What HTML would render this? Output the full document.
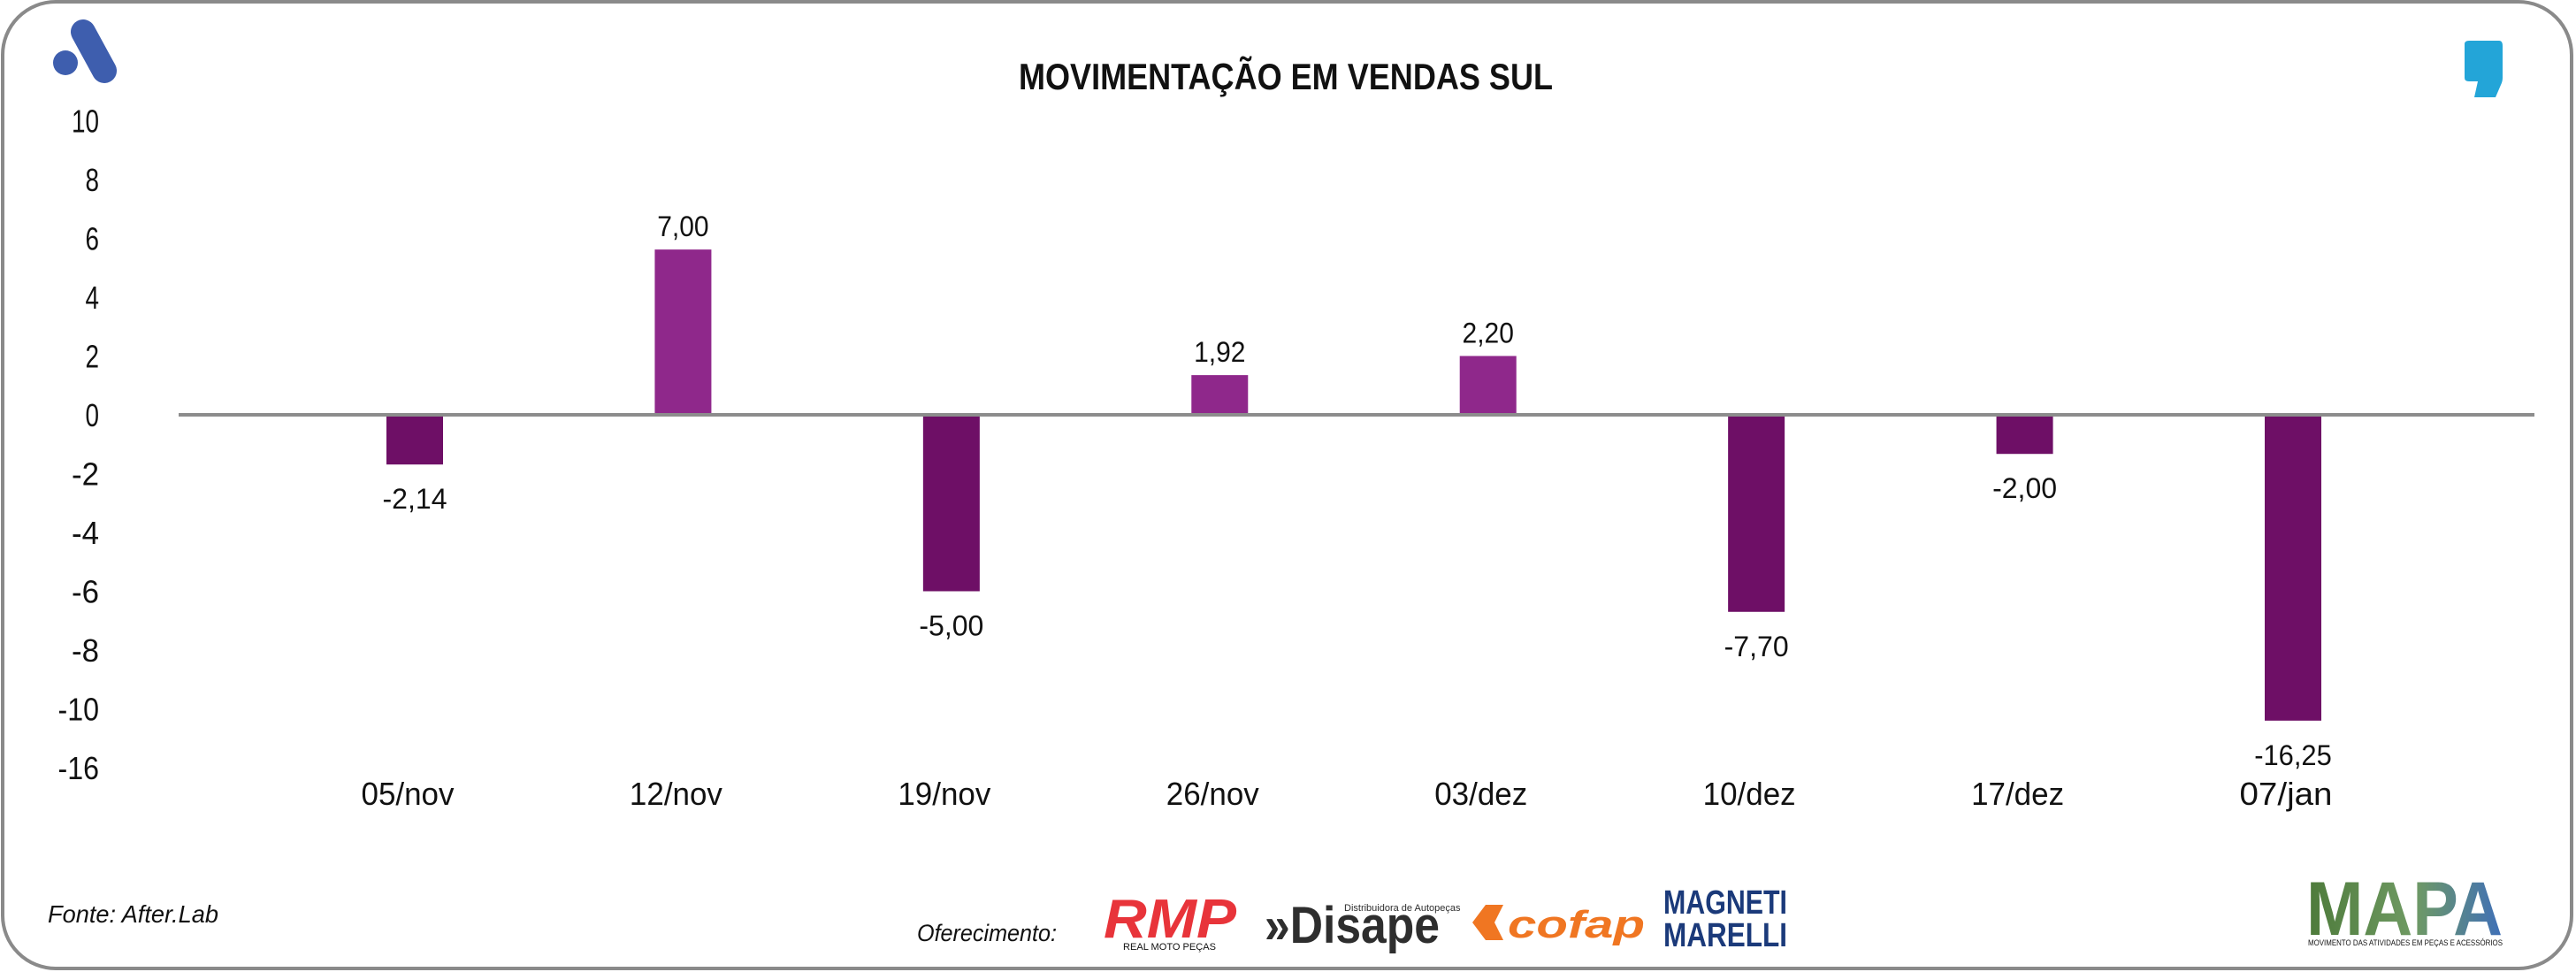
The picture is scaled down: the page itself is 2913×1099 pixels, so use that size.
<!DOCTYPE html>
<html><head><meta charset="utf-8"><style>
html,body{margin:0;padding:0;background:#fff;}
svg{display:block;}
text{font-family:"Liberation Sans Narrow","Liberation Sans",sans-serif;fill:#111;}
</style></head><body>
<svg id="chart" width="2913" height="1099" viewBox="0 0 2913 1099" xmlns="http://www.w3.org/2000/svg">
<rect x="3" y="2" width="2905" height="1093" rx="60" ry="60" fill="#fff" stroke="#8a8a8a" stroke-width="4"/>
<g>
<circle cx="74" cy="71" r="14" fill="#3E5EAE"/>
<line x1="94" y1="36" x2="118" y2="80" stroke="#3E5EAE" stroke-width="28" stroke-linecap="round"/>
</g>
<path d="M2787 50 Q2787 46 2792 46 L2826 46 Q2830 46 2830 52 L2830 88 Q2830 92 2828 96 L2822 110 L2798 110 L2802 92 L2792 92 Q2787 92 2787 88 Z" fill="#23A5D8"/>
<text x="1454" y="101" text-anchor="middle" font-size="42" font-weight="bold" textLength="604" lengthAdjust="spacingAndGlyphs">MOVIMENTAÇÃO EM VENDAS SUL</text>
<g id="yaxis"></g>
<g id="bars"></g>
<line x1="202" y1="469" x2="2866" y2="469" stroke="#8c8c8c" stroke-width="4"/>
<g id="xaxis"></g>
<text x="54" y="1043" font-size="28" font-style="italic" textLength="193" lengthAdjust="spacingAndGlyphs">Fonte: After.Lab</text>
<text x="1037" y="1064" font-size="27" font-style="italic" textLength="158" lengthAdjust="spacingAndGlyphs">Oferecimento:</text>
<g>
<text x="1248" y="1060" font-size="62" font-weight="bold" font-style="italic" style="fill:#E8343A" textLength="150" lengthAdjust="spacingAndGlyphs">RMP</text>
<text x="1270" y="1074" font-size="11" textLength="105" lengthAdjust="spacingAndGlyphs">REAL MOTO PEÇAS</text>
</g>
<g>
<text x="1430" y="1066" font-size="58" font-weight="bold" style="fill:#2e2e2e" textLength="198" lengthAdjust="spacingAndGlyphs">»Disape</text>
<text x="1520" y="1030" font-size="11" style="fill:#2e2e2e">Distribuidora de Autopeças</text>
</g>
<g>
<path d="M1665 1043 L1680 1023 L1700 1023 L1690 1043 L1700 1063 L1680 1063 Z" fill="#F07622"/>
<text x="1705" y="1060" font-size="44" font-weight="bold" font-style="italic" style="fill:#F07622" textLength="155" lengthAdjust="spacingAndGlyphs">cofap</text>
</g>
<g>
<text x="1951" y="1033" text-anchor="middle" font-size="38" font-weight="bold" style="fill:#1B3A7A" textLength="140" lengthAdjust="spacingAndGlyphs">MAGNETI</text>
<text x="1951" y="1070" text-anchor="middle" font-size="38" font-weight="bold" style="fill:#1B3A7A" textLength="140" lengthAdjust="spacingAndGlyphs">MARELLI</text>
</g>
<g>
<defs><linearGradient id="mg" x1="0" x2="1" y1="0" y2="0"><stop offset="0" stop-color="#4d7a3a"/><stop offset="0.55" stop-color="#6f9a63"/><stop offset="1" stop-color="#3f6fb8"/></linearGradient></defs>
<text x="2608" y="1057" font-size="86" font-weight="bold" style="fill:url(#mg)" textLength="222" lengthAdjust="spacingAndGlyphs">MAPA</text>
<text x="2610" y="1069" font-size="9" textLength="220" lengthAdjust="spacingAndGlyphs">MOVIMENTO DAS ATIVIDADES EM PEÇAS E ACESSÓRIOS</text>
</g>
</svg>
<script>
const categories = ["05/nov","12/nov","19/nov","26/nov","03/dez","10/dez","17/dez","07/jan"];
const barValues = [-1.69, 5.62, -6.0, 1.35, 2.0, -6.7, -1.33, -10.4];
const valueLabels = ["-2,14","7,00","-5,00","1,92","2,20","-7,70","-2,00","-16,25"];
const tickValues = [10,8,6,4,2,0,-2,-4,-6,-8,-10,-12];
const tickLabels = ["10","8","6","4","2","0","-2","-4","-6","-8","-10","-16"];

const NS = "http://www.w3.org/2000/svg";
const zeroY = 469, unitPx = 33.25;
function yScale(v){ return zeroY - v*unitPx; }
const x0 = 469, step = (2593-469)/7;
function xScale(i){ return x0 + i*step; }
const barW = 64;

const yaxis = document.getElementById('yaxis');
tickValues.forEach((v,i)=>{
  const t = document.createElementNS(NS,'text');
  t.setAttribute('x',112); t.setAttribute('y',yScale(v)+13);
  t.setAttribute('text-anchor','end'); t.setAttribute('font-size','36');
  t.textContent = tickLabels[i];
  t.setAttribute('textLength', tickLabels[i].length*15.5);
  t.setAttribute('lengthAdjust','spacingAndGlyphs');
  
  
  yaxis.appendChild(t);
});

const bars = document.getElementById('bars');
const xaxis = document.getElementById('xaxis');
barValues.forEach((v,i)=>{
  const cx = xScale(i);
  const r = document.createElementNS(NS,'rect');
  const top = v>=0 ? yScale(v) : zeroY;
  const h = Math.abs(yScale(v)-zeroY);
  r.setAttribute('x',cx-barW/2); r.setAttribute('y',top);
  r.setAttribute('width',barW); r.setAttribute('height',h);
  r.setAttribute('fill', v>=0 ? '#8F288B' : '#6E0F66');
  
  
  bars.appendChild(r);
  const l = document.createElementNS(NS,'text');
  l.setAttribute('x',cx); l.setAttribute('text-anchor','middle'); l.setAttribute('font-size','32');
  l.setAttribute('y', v>=0 ? yScale(v)-15 : yScale(v)+50);
  l.textContent = valueLabels[i];
  l.setAttribute('textLength', valueLabels[i].length*14.6);
  l.setAttribute('lengthAdjust','spacingAndGlyphs');
  
  
  bars.appendChild(l);
  const c = document.createElementNS(NS,'text');
  c.setAttribute('x',cx-8); c.setAttribute('y',910);
  c.setAttribute('text-anchor','middle'); c.setAttribute('font-size','36');
  c.textContent = categories[i];
  c.setAttribute('textLength', categories[i].length*17.5);
  c.setAttribute('lengthAdjust','spacingAndGlyphs');
  
  
  xaxis.appendChild(c);
});
</script>
</body></html>
